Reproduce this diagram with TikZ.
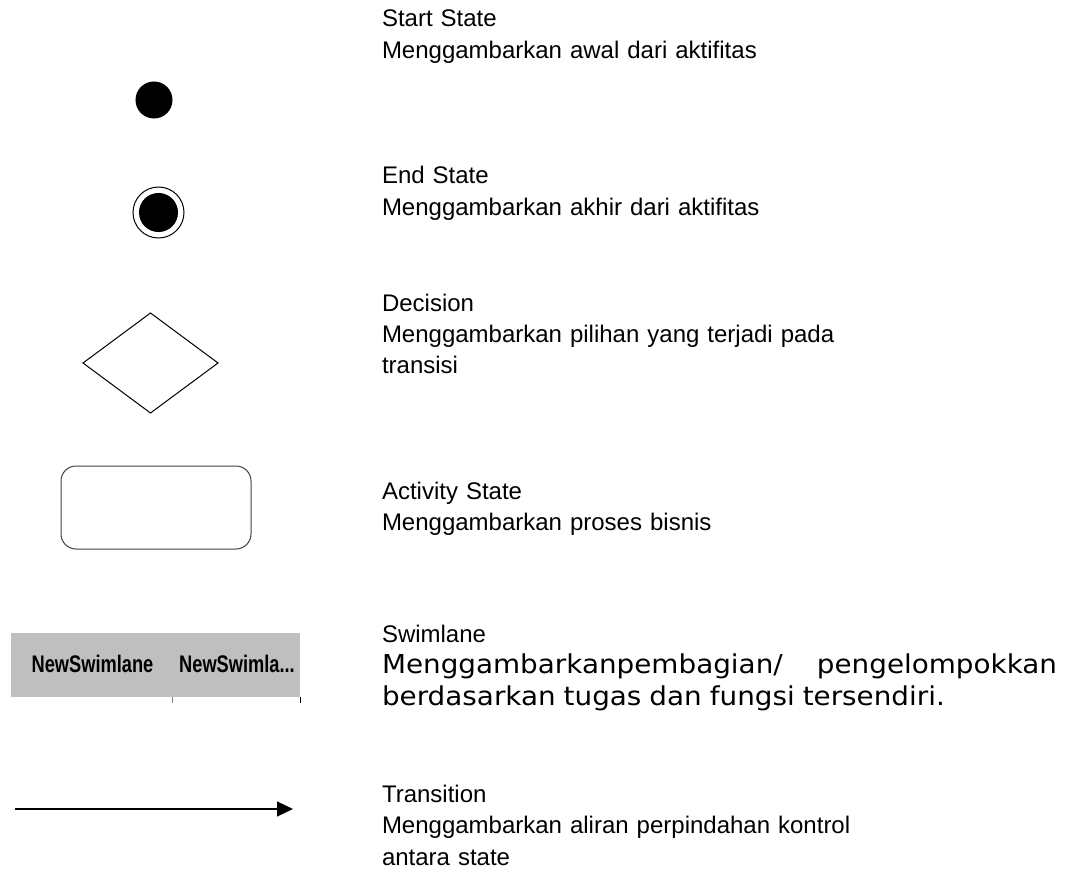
\documentclass[tikz,border=0pt]{standalone}
\usepackage{fontspec}
\setmainfont{Liberation Sans}
\newfontfamily\narrowfont[FakeStretch=0.76]{Liberation Sans}
\newfontfamily\lanefont[FakeStretch=1.07]{DejaVu Sans}
\usetikzlibrary{shapes.geometric}
\usetikzlibrary{arrows.meta}
\tikzstyle{desc}=[anchor=base west, inner sep=0, outer sep=0, align=left, text width=340pt,
                  font=\fontsize{12pt}{15.75pt}\selectfont]
\tikzstyle{symbol}=[draw, inner sep=0, outer sep=0, line width=0.5pt]
\tikzstyle{startstate}=[symbol, circle, fill=black, minimum size=18pt]
\tikzstyle{endring}=[symbol, circle, minimum size=25.5pt]
\tikzstyle{decision}=[symbol, diamond, minimum width=67.5pt, minimum height=50pt]
\tikzstyle{activity}=[symbol, draw=black!75, rounded corners=7.5pt, minimum width=95pt, minimum height=41.5pt]
\tikzstyle{lanehead}=[inner sep=0, font=\narrowfont\bfseries\fontsize{12pt}{14pt}\selectfont]
\begin{document}
\begin{tikzpicture}[x=0.5pt, y=-0.5pt]
        \useasboundingbox (0, 0) rectangle (1067, 883);
        % symbols
        \node[startstate]                       (start) at (154, 100) {};
        \node[endring]                          (endo) at (158.5, 212.5) {};
        \node[startstate, minimum size=19pt]    (endi) at (158.5, 212.5) {};
        \node[decision]                         (dec) at (150.5, 363) {};
        \node[activity]                         (act) at (156, 507.5) {};
        \node[fill=black!25, inner sep=0, minimum width=144.5pt, minimum height=32pt] (lane) at (155.5, 665) {};
        \node[lanehead]                         (lane1) at (92.5, 664) {NewSwimlane};
        \node[lanehead]                         (lane2) at (237, 664) {NewSwimla...};
        \coordinate (tick1) at ([xshift=81pt]lane.south west);
        \draw[black!50] (tick1) -- ++(0, 6);
        \draw (lane.south east) -- ++(0, 6);
        \coordinate (tstart) at (15, 809);
        \coordinate (tend) at (293, 809);
        \draw[line width=0.6pt, -{Triangle[length=8pt, width=7.5pt]}] (tstart) -- (tend);
        % descriptions
        \node[desc] (start-d) at (382, 27)  {Start State\\Menggambarkan awal dari aktifitas};
        \node[desc] (end-d)   at (382, 184) {End State\\Menggambarkan akhir dari aktifitas};
        \node[desc] (dec-d)   at (382, 311) {Decision\\Menggambarkan pilihan yang terjadi pada\\transisi};
        \node[desc] (act-d)   at (382, 499) {Activity State\\Menggambarkan proses bisnis};
        \node[desc, text width=337.5pt] (lane-d) at (382, 642)
              {Swimlane\\{\lanefont\fontsize{13pt}{15.75pt}\selectfont Menggambarkanpembagian/\hfill pengelompokkan}\\{\lanefont\fontsize{13pt}{15.75pt}\selectfont berdasarkan tugas dan fungsi tersendiri.}};
        \node[desc] (trans-d) at (382, 802) {Transition\\Menggambarkan aliran perpindahan kontrol\\antara state};
    \end{tikzpicture}
\end{document}
